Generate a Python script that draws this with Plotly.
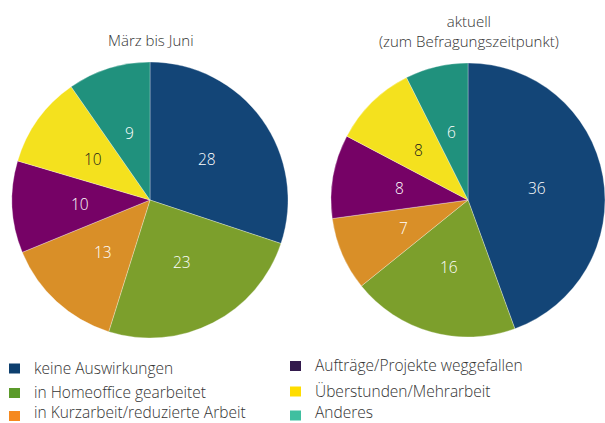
import math
import plotly.graph_objects as go

categories = ["keine Auswirkungen", "in Homeoffice gearbeitet", "in Kurzarbeit/reduzierte Arbeit",
              "Aufträge/Projekte weggefallen", "Überstunden/Mehrarbeit", "Anderes"]
values_maerz_juni = [28, 23, 13, 10, 10, 9]
values_aktuell = [36, 16, 7, 8, 8, 6]
title_left = "März bis Juni"
title_right = "aktuell<br>(zum Befragungszeitpunkt)"

pie_colors = ["#134577", "#7c9f2c", "#d98f28", "#760266", "#f4e11e", "#20917d"]
legend_colors = ["#0d3f6e", "#5b9a2a", "#f5891f", "#331a4d", "#ffdd00", "#3fbfa0"]
text_colors = ["white", "white", "white", "white", "#1a1a1a", "white"]

W, H = 605, 423
FONT = "Open Sans"
TXT = "#333333"

def px_x(x):
    return x / W

def px_y(y):
    return 1 - y / H

fig = go.Figure()
annotations = []
pies = [(values_maerz_juni, (12, 288), 150), (values_aktuell, (331, 605), 468)]
for vals, dx, cx in pies:
    fig.add_trace(go.Pie(
        labels=categories, values=vals, sort=False, direction="clockwise", rotation=0,
        marker=dict(colors=pie_colors, line=dict(color="rgba(255,255,255,0.6)", width=0.5)),
        textinfo="none",
        domain=dict(x=[px_x(dx[0]), px_x(dx[1])], y=[px_y(338), px_y(62)]),
        showlegend=False, hoverinfo="label+value",
    ))
    # value labels at half radius on each slice's mid-angle
    total = sum(vals)
    cum = 0
    for v, tc in zip(vals, text_colors):
        mid = (cum + v / 2) / total * 2 * math.pi
        cum += v
        lx = cx + 70 * math.sin(mid)
        ly = 200 - 70 * math.cos(mid)
        annotations.append(dict(text=str(v), x=px_x(lx), y=px_y(ly), xref="paper", yref="paper",
                                showarrow=False, xanchor="center", yanchor="middle",
                                font=dict(family=FONT, size=15.5, color=tc, weight=300)))

annotations += [
    dict(text=title_left, x=px_x(151), y=px_y(40), xref="paper", yref="paper", showarrow=False,
         font=dict(family=FONT, size=15, color=TXT, weight=300), xanchor="center", yanchor="middle"),
    dict(text=title_right, x=px_x(469), y=px_y(31), xref="paper", yref="paper", showarrow=False,
         font=dict(family=FONT, size=15, color=TXT, weight=300), xanchor="center", yanchor="middle"),
]
shapes = []
# (marker x, text x, marker centre y, text centre y)
leg_pos = [(9, 32, 368.5, 367.5), (9, 32, 393, 392), (9, 32, 416, 412),
           (290, 313, 366, 365), (290, 313, 391.5, 390.5), (290, 313, 415.5, 412)]
for cat, col, (mx, tx, my, ty) in zip(categories, legend_colors, leg_pos):
    shapes.append(dict(type="rect", xref="paper", yref="paper",
                       x0=px_x(mx), x1=px_x(mx + 11), y0=px_y(my - 5), y1=px_y(my + 5),
                       fillcolor=col, line=dict(width=0)))
    annotations.append(dict(text=cat, x=px_x(tx), y=px_y(ty), xref="paper", yref="paper",
                            showarrow=False, xanchor="left", yanchor="middle",
                            font=dict(family=FONT, size=15.5, color=TXT, weight=300)))

fig.update_layout(
    width=W, height=H, margin=dict(l=0, r=0, t=0, b=0),
    paper_bgcolor="white", plot_bgcolor="white",
    annotations=annotations, shapes=shapes,
)
fig.write_html("out.html", config={"displayModeBar": False},
               post_script="document.body.style.margin='0';document.body.style.padding='0';")
